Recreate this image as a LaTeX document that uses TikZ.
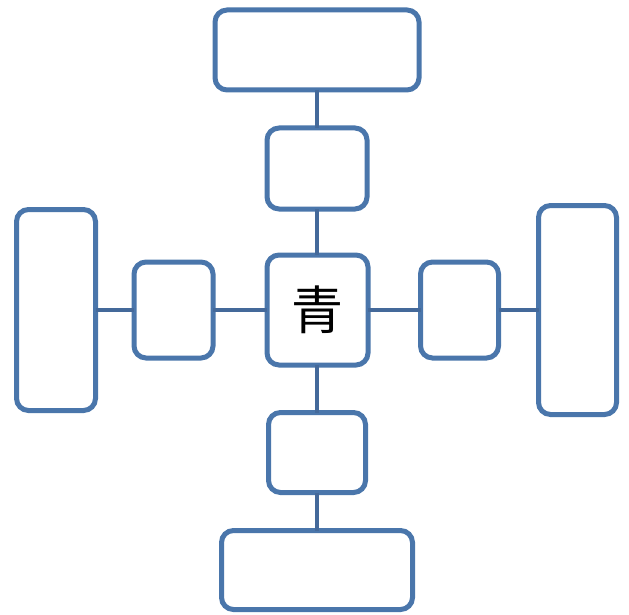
\documentclass[tikz,border=0pt]{standalone}
\usepackage{fontspec}
\newfontfamily\cjk{Noto Sans CJK SC}
\definecolor{boxblue}{HTML}{4A76AB}
\definecolor{linkblue}{HTML}{44699A}
\begin{document}
\begin{tikzpicture}[x=1pt,y=-1pt,
  bx/.style={draw=boxblue,line width=5pt,rounded corners=12pt,fill=white,inner sep=0pt,outer sep=0pt},
  link/.style={draw=linkblue,line width=4.2pt}]
\useasboundingbox (0,0) rectangle (629,615);
\node[bx,minimum width=204pt,minimum height=80pt] (top) at (317,50) {};
\node[bx,minimum width=100pt,minimum height=81pt] (topmid) at (317,168.5) {};
\node[bx,minimum width=101pt,minimum height=110pt] (center) at (317.5,310) {\cjk\fontsize{52}{52}\selectfont 青};
\node[bx,minimum width=79pt,minimum height=96pt] (leftmid) at (173.5,310) {};
\node[bx,minimum width=79pt,minimum height=201pt] (left) at (56,310) {};
\node[bx,minimum width=78pt,minimum height=96pt] (rightmid) at (459.5,310) {};
\node[bx,minimum width=78pt,minimum height=209pt] (right) at (577.5,310) {};
\node[bx,minimum width=97pt,minimum height=80pt] (botmid) at (317,452.5) {};
\node[bx,minimum width=191pt,minimum height=79pt] (bottom) at (317,570) {};
\draw[link] (top.south) -- (topmid.north);
\draw[link] (topmid.south) -- (topmid.south |- center.north);
\draw[link] (botmid.north |- center.south) -- (botmid.north);
\draw[link] (botmid.south) -- (bottom.north);
\draw[link] (left.east) -- (leftmid.west);
\draw[link] (leftmid.east) -- (center.west);
\draw[link] (center.east) -- (rightmid.west);
\draw[link] (rightmid.east) -- (right.west);
\end{tikzpicture}
\end{document}
